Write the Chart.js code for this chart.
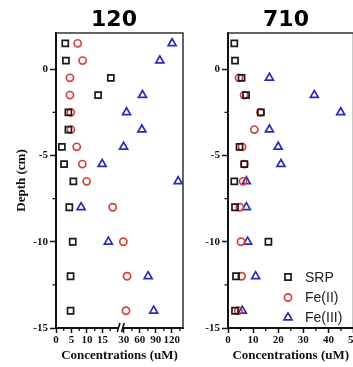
<!DOCTYPE html>
<html><head><meta charset="utf-8">
<script src="https://cdn.jsdelivr.net/npm/chart.js@4.4.0/dist/chart.umd.min.js"></script>
<style>
html,body{margin:0;padding:0;background:#fff;overflow:hidden;width:353px;height:367px;}
#wrap{position:relative;width:353px;height:367px;overflow:hidden;background:#fff;}
canvas{position:absolute;top:0;}
#c1{left:0;} #c2{left:172px;}
</style></head><body><div id="wrap"><canvas id="c1" width="190" height="367"></canvas><canvas id="c2" width="190" height="367"></canvas></div>
<script>
// ---- data ----
const depths   = [1.5, 0.5, -0.5, -1.5, -2.5, -3.5, -4.5, -5.5, -6.5, -8, -10, -12, -14];
const srp120   = [3, 3.2, 17.7, 13.6, 4.0, 4.0, 1.9, 2.6, 5.6, 4.3, 5.4, 4.7, 4.7];
const fe2_120  = [7, 8.6, 4.5, 4.5, 4.8, 4.8, 6.7, 8.5, 9.9, 18.3, 29, 36, 34];
const fe3_120  = [120.6, 97.5, null, 65, 35, 63.8, 29.5, 14.9, 131.9, 8.1, 16.9, 75.6, 86];
const srp710   = [2.5, 2.8, 5.4, 7.2, 13.1, null, 4.6, 6.5, 2.5, 2.8, 16.1, 3.2, 2.8];
const fe2_710  = [null, null, 4.4, 6.4, 12.9, 10.5, 5.6, 6.5, 6.0, 4.7, 5.2, 5.4, 4.1];
const fe3_710  = [null, null, 16.5, 34.4, 44.9, 16.5, 20, 21.1, 7.3, 7.3, 7.8, 11.0, 5.7];
const xTicks120 = [0, 5, 10, 15, 30, 60, 90, 120];
const xMinor120 = [2.5, 7.5, 12.5, 17.5, 45, 75, 105, 135];
const xTicks710 = [0, 10, 20, 30, 40, 50];
const xMinor710 = [5, 15, 25, 35, 45];
const yTicks = [0, -5, -10, -15];
const yMinor = [-2.5, -7.5, -12.5];
const seriesNames = ['SRP', 'Fe(II)', 'Fe(III)'];
const panelTitles = ['120', '710'];

// broken-axis mapping for the "120" panel
const BREAK_LO = 20.6, BREAK_HI = 22.4, HI_SCALE = 0.172;
function brk(v){ return v <= BREAK_LO ? v : BREAK_LO + (v - BREAK_HI) * HI_SCALE; }
function ident(v){ return v; }

const styles = [
  {pointStyle:'rect', radius:4.3, color:'#1a1a1a'},
  {pointStyle:'circle', radius:3.6, color:'#d9403a'},
  {pointStyle:'triangle', radius:4.6, color:'#2b2bb5'}
];
const SERIF = "'Liberation Serif', 'Times New Roman', serif";

function makeChart(id, series, xfn, xmax, ticks, minor, opts){
  const datasets = series.map((arr, k) => ({
    label: seriesNames[k],
    data: depths.map((d, i) => arr[i] == null ? null : {x: xfn(arr[i]), y: d}).filter(Boolean),
    pointStyle: styles[k].pointStyle,
    pointRadius: styles[k].radius,
    pointBorderWidth: 1.7,
    borderColor: styles[k].color,
    pointBorderColor: styles[k].color,
    backgroundColor: 'rgba(0,0,0,0)',
    pointBackgroundColor: 'rgba(0,0,0,0)',
    showLine: false
  }));
  const deco = {
    id: 'deco' + id,
    afterDraw(chart){
      const ctx = chart.ctx, a = chart.chartArea;
      const xs = chart.scales.x, ys = chart.scales.y;
      ctx.save();
      // top and right frame
      ctx.strokeStyle = '#333'; ctx.lineWidth = 1.5;
      ctx.beginPath();
      ctx.moveTo(a.left, a.top); ctx.lineTo(a.right, a.top); ctx.lineTo(a.right, a.bottom);
      ctx.stroke();
      // minor ticks
      ctx.strokeStyle = '#111'; ctx.lineWidth = 1.3;
      minor.forEach(v => {
        const px = xs.getPixelForValue(xfn(v));
        if (px > a.left && px < a.right - 1) {
          ctx.beginPath(); ctx.moveTo(px, a.bottom); ctx.lineTo(px, a.bottom + 3); ctx.stroke();
        }
      });
      yMinor.forEach(v => {
        const py = ys.getPixelForValue(v);
        ctx.beginPath(); ctx.moveTo(a.left, py); ctx.lineTo(a.left - 3.5, py); ctx.stroke();
      });
      // axis break
      if (opts.breakMark) {
        const px = xs.getPixelForValue(BREAK_LO + 0.3);
        ctx.fillStyle = '#fff';
        ctx.fillRect(px - 2, a.bottom - 2, 4, 4);
        ctx.strokeStyle = '#111'; ctx.lineWidth = 1.6;
        ctx.beginPath();
        ctx.moveTo(px - 3.5, a.bottom + 4); ctx.lineTo(px - 0.8, a.bottom - 5);
        ctx.moveTo(px + 0.8, a.bottom + 4); ctx.lineTo(px + 3.5, a.bottom - 5);
        ctx.stroke();
      }
      // panel title
      ctx.fillStyle = '#000';
      ctx.font = "bold 22px 'DejaVu Sans', Verdana, sans-serif";
      ctx.textAlign = 'center'; ctx.textBaseline = 'alphabetic';
      ctx.fillText(opts.title, a.left + 58, 26);
      // legend
      if (opts.legend) {
        const mx = 116, tx = 133, rows = [277, 297.5, 317.5];
        ctx.font = "14px 'Liberation Sans', Arial, sans-serif";
        ctx.textAlign = 'left'; ctx.textBaseline = 'middle';
        seriesNames.forEach((n, k) => {
          ctx.strokeStyle = styles[k].color; ctx.fillStyle = 'rgba(0,0,0,0)'; ctx.lineWidth = 1.7;
          Chart.helpers.drawPoint(ctx, {pointStyle: styles[k].pointStyle, radius: styles[k].radius, rotation: 0, borderWidth: 1.7}, mx, rows[k]);
          ctx.fillStyle = '#222';
          ctx.fillText(n, tx, rows[k] + 1);
        });
      }
      ctx.restore();
    }
  };
  return new Chart(document.getElementById(id), {
    type: 'scatter',
    data: {datasets},
    plugins: [deco],
    options: {
      responsive: false, animation: false, devicePixelRatio: 1,
      layout: {padding: {top: 33, right: opts.padRight, left: 0, bottom: 0}},
      plugins: {legend: {display: false}, tooltip: {enabled: false}, title: {display: false}},
      scales: {
        x: {
          type: 'linear', min: 0, max: xmax,
          afterFit: s => { s.height = 39; },
          afterBuildTicks: s => { s.ticks = ticks.map(v => ({value: xfn(v)})); },
          ticks: {autoSkip: false, maxRotation: 0, minRotation: 0, padding: 1, color: '#111',
                  font: {family: SERIF, weight: 'bold', size: 11},
                  callback: (val, idx) => String(ticks[idx])},
          grid: {drawOnChartArea: false, drawTicks: true, tickLength: 5, tickColor: '#111', tickWidth: 1.5},
          border: {display: true, color: '#111', width: 2},
          title: {display: true, text: 'Concentrations (uM)', color: '#111',
                  font: {family: SERIF, weight: 'bold', size: 13}, padding: {top: 0, bottom: 4}}
        },
        y: {
          type: 'linear', min: -15, max: 2.1,
          afterFit: s => { s.width = 56; },
          afterBuildTicks: s => { s.ticks = yTicks.map(v => ({value: v})); },
          ticks: {autoSkip: false, padding: 2, color: '#111',
                  font: {family: SERIF, weight: 'bold', size: 11},
                  callback: v => String(v)},
          grid: {drawOnChartArea: false, drawTicks: true, tickLength: 6, tickColor: '#111', tickWidth: 1.5},
          border: {display: true, color: '#111', width: 2},
          title: {display: opts.yTitle, text: 'Depth (cm)', color: '#111',
                  font: {family: SERIF, weight: 'bold', size: 13}, padding: {top: 14, bottom: 0}}
        }
      }
    }
  });
}

makeChart('c1', [srp120, fe2_120, fe3_120], brk, 41, xTicks120, xMinor120,
  {padRight: 7, yTitle: true, legend: false, breakMark: true, title: panelTitles[0]});
makeChart('c2', [srp710, fe2_710, fe3_710], ident, 50, xTicks710, xMinor710,
  {padRight: 8.5, yTitle: false, legend: true, breakMark: false, title: panelTitles[1]});
</script></body></html>
